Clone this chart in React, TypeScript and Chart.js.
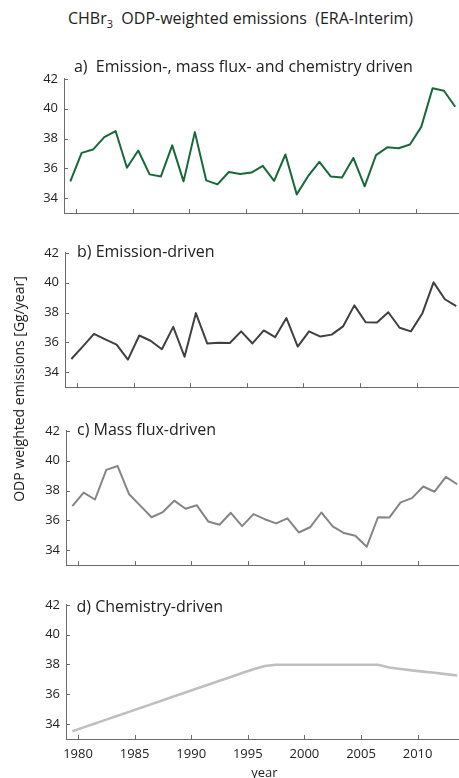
import React, { useEffect, useRef } from 'react';
import { Chart, registerables } from 'chart.js';

Chart.register(...registerables);

// ---------- data ----------
const YEARS = [
  1979, 1980, 1981, 1982, 1983, 1984, 1985, 1986, 1987, 1988, 1989, 1990,
  1991, 1992, 1993, 1994, 1995, 1996, 1997, 1998, 1999, 2000, 2001, 2002,
  2003, 2004, 2005, 2006, 2007, 2008, 2009, 2010, 2011, 2012, 2013,
];

// a) Emission-, mass flux- and chemistry driven
const ALL_DRIVEN = [
  35.13, 37.04, 37.26, 38.09, 38.5, 36.04, 37.2, 35.6, 35.46, 37.54, 35.13, 38.43,
  35.2, 34.93, 35.76, 35.63, 35.72, 36.17, 35.17, 36.93, 34.26, 35.48, 36.43, 35.46,
  35.39, 36.7, 34.8, 36.89, 37.41, 37.35, 37.6, 38.78, 41.37, 41.2, 40.13,
];

// b) Emission-driven
const EMISSION_DRIVEN = [
  34.89, 35.72, 36.57, 36.2, 35.85, 34.85, 36.46, 36.11, 35.54, 37.04, 35.04, 37.96,
  35.93, 35.98, 35.96, 36.74, 35.93, 36.8, 36.35, 37.63, 35.72, 36.74, 36.39, 36.52,
  37.07, 38.48, 37.35, 37.33, 38.02, 36.98, 36.74, 37.93, 40.02, 38.89, 38.43,
];

// c) Mass flux-driven
const MASS_FLUX_DRIVEN = [
  36.95, 37.86, 37.4, 39.38, 39.64, 37.77, 36.99, 36.21, 36.56, 37.32, 36.78, 37.01,
  35.93, 35.71, 36.51, 35.62, 36.42, 36.08, 35.8, 36.14, 35.19, 35.54, 36.53, 35.6,
  35.15, 34.97, 34.23, 36.21, 36.19, 37.21, 37.49, 38.27, 37.92, 38.92, 38.42,
];

// d) Chemistry-driven
const CHEMISTRY_DRIVEN = [
  33.52, 33.78, 34.04, 34.3, 34.56, 34.82, 35.08, 35.34, 35.6, 35.86, 36.12, 36.38,
  36.64, 36.9, 37.16, 37.42, 37.68, 37.9, 37.98, 37.98, 37.98, 37.98, 37.98, 37.98,
  37.98, 37.98, 37.98, 37.98, 37.8, 37.7, 37.6, 37.52, 37.44, 37.35, 37.26,
];

const X_TICKS = [1980, 1985, 1990, 1995, 2000, 2005, 2010];
const Y_TICKS = [34, 36, 38, 40, 42];
const Y_MIN = 33;
const Y_MAX = 42;

const PANEL_TITLES = [
  'a)  Emission-, mass flux- and chemistry driven',
  'b) Emission-driven',
  'c) Mass flux-driven',
  'd) Chemistry-driven',
];

// ---------- layout / style ----------
const VIEW_W = 459;
const VIEW_H = 778;
const CANVAS_W = 480;
const X_MIN = 1978.94;
const X_MAX = 2014;
const PX_PER_YEAR = 11.32;
const MID_YEAR = 0.5;
const FONT = "'Open Sans', sans-serif";
const TEXT_COLOR = '#222222';
const AXIS_COLOR = '#6a6a6a';

const inwardTicks = {
  id: 'inwardTicks',
  afterDraw(chart: any) {
    const { ctx, chartArea, scales } = chart;
    const x = scales.x;
    const y = scales.y;
    ctx.save();
    ctx.strokeStyle = AXIS_COLOR;
    ctx.lineWidth = 1;
    X_TICKS.forEach((v) => {
      const px = Math.round(x.getPixelForValue(v)) + 0.5;
      ctx.beginPath();
      ctx.moveTo(px, chartArea.bottom);
      ctx.lineTo(px, chartArea.bottom - 4);
      ctx.stroke();
    });
    Y_TICKS.forEach((v) => {
      const py = Math.round(y.getPixelForValue(v)) + 0.5;
      ctx.beginPath();
      ctx.moveTo(chartArea.left, py);
      ctx.lineTo(chartArea.left + 4, py);
      ctx.stroke();
    });
    ctx.restore();
  },
};

type PanelProps = {
  values: number[];
  color: string;
  lineWidth: number;
  top: number;
  bottom: number;
  axisLeft: number;
  last: boolean;
};

function Panel({ values, color, lineWidth, top, bottom, axisLeft, last }: PanelProps) {
  const ref = useRef<HTMLCanvasElement>(null);
  const padTop = 12;
  const extraBottom = last ? VIEW_H + 3 - bottom : 12;
  const canvasH = Math.round(bottom - top + padTop + extraBottom);
  const plotRight = axisLeft + (X_MAX - X_MIN) * PX_PER_YEAR;

  useEffect(() => {
    const chart = new Chart(ref.current as HTMLCanvasElement, {
      type: 'line',
      data: {
        datasets: [
          {
            data: YEARS.map((yr, i) => ({ x: yr + MID_YEAR, y: values[i] })),
            borderColor: color,
            borderWidth: lineWidth,
            pointRadius: 0,
            tension: 0,
            fill: false,
            borderJoinStyle: 'round',
          },
        ],
      },
      options: {
        responsive: false,
        animation: false,
        devicePixelRatio: 1,
        layout: {
          padding: {
            top: padTop,
            bottom: last ? 0 : extraBottom,
            left: 0,
            right: CANVAS_W - plotRight,
          },
        },
        plugins: {
          legend: { display: false },
          tooltip: { enabled: false },
          title: { display: false },
        },
        scales: {
          x: {
            type: 'linear',
            min: X_MIN,
            max: X_MAX,
            grid: { display: false, drawTicks: false },
            border: { display: true, color: AXIS_COLOR, width: 1 },
            ticks: {
              display: last,
              padding: 7,
              color: TEXT_COLOR,
              font: { family: FONT, size: 13 },
              callback: (v: any) => String(v),
            },
            title: {
              display: last,
              text: 'year',
              color: TEXT_COLOR,
              font: { family: FONT, size: 13 },
              padding: { top: 0, bottom: 0 },
            },
            afterBuildTicks: (s: any) => {
              s.ticks = X_TICKS.map((v) => ({ value: v }));
            },
            afterFit: (s: any) => {
              s.height = last ? extraBottom : 0;
            },
          },
          y: {
            type: 'linear',
            min: Y_MIN,
            max: Y_MAX,
            grid: { display: false, drawTicks: false },
            border: { display: true, color: AXIS_COLOR, width: 1 },
            ticks: {
              padding: 6,
              color: TEXT_COLOR,
              font: { family: FONT, size: 13 },
              callback: (v: any) => String(v),
            },
            afterBuildTicks: (s: any) => {
              s.ticks = Y_TICKS.map((v) => ({ value: v }));
            },
            afterFit: (s: any) => {
              s.width = axisLeft;
            },
          },
        },
      },
      plugins: [inwardTicks],
    } as any);
    return () => chart.destroy();
  }, []);

  return (
    <canvas
      ref={ref}
      width={CANVAS_W}
      height={canvasH}
      style={{
        position: 'absolute',
        left: 0,
        top: top - padTop,
        width: CANVAS_W,
        height: canvasH,
        display: 'block',
      }}
    />
  );
}

const PANELS = [
  { values: ALL_DRIVEN, color: '#17693a', lineWidth: 2, top: 77, bottom: 215, axisLeft: 64 },
  { values: EMISSION_DRIVEN, color: '#404040', lineWidth: 2, top: 251, bottom: 389, axisLeft: 65 },
  { values: MASS_FLUX_DRIVEN, color: '#858585', lineWidth: 2, top: 429, bottom: 567, axisLeft: 66 },
  { values: CHEMISTRY_DRIVEN, color: '#bfbfc3', lineWidth: 2.6, top: 603, bottom: 739, axisLeft: 66 },
];

function Label({ text, cx, cy, left, size }: { text: React.ReactNode; cx?: number; cy: number; left?: number; size: number }) {
  const lh = Math.round(size * 1.4);
  const style: React.CSSProperties = {
    position: 'absolute',
    top: cy - lh / 2,
    height: lh,
    lineHeight: `${lh}px`,
    fontFamily: FONT,
    fontSize: size,
    color: TEXT_COLOR,
    whiteSpace: 'pre',
  };
  if (cx !== undefined) {
    style.left = cx;
    style.transform = 'translateX(-50%)';
  } else {
    style.left = left;
  }
  return <div style={style}>{text}</div>;
}

export default function App() {
  return (
    <div
      style={{
        position: 'absolute',
        left: 0,
        top: 0,
        width: VIEW_W,
        height: VIEW_H,
        overflow: 'hidden',
        background: '#ffffff',
      }}
    >
      {PANELS.map((p, i) => (
        <Panel key={i} {...p} last={i === PANELS.length - 1} />
      ))}
      <Label
        cx={240.5}
        cy={18}
        size={16}
        text={
          <span>
            CHBr<sub style={{ fontSize: 11, verticalAlign: '-4px', lineHeight: 0 }}>3</sub>
            {'  ODP-weighted emissions  (ERA-Interim)'}
          </span>
        }
      />
      <Label cx={243.4} cy={65.5} size={16} text={PANEL_TITLES[0]} />
      <Label left={77} cy={250.5} size={16} text={PANEL_TITLES[1]} />
      <Label left={77} cy={428.8} size={16} text={PANEL_TITLES[2]} />
      <Label left={76.5} cy={606} size={16} text={PANEL_TITLES[3]} />
      <div
        style={{
          position: 'absolute',
          left: 19 - 150,
          top: 389 - 10,
          width: 300,
          height: 20,
          lineHeight: '20px',
          textAlign: 'center',
          fontFamily: FONT,
          fontSize: 14,
          color: TEXT_COLOR,
          transform: 'rotate(-90deg)',
          transformOrigin: '50% 50%',
          whiteSpace: 'pre',
        }}
      >
        ODP weighted emissions [Gg/year]
      </div>
    </div>
  );
}
